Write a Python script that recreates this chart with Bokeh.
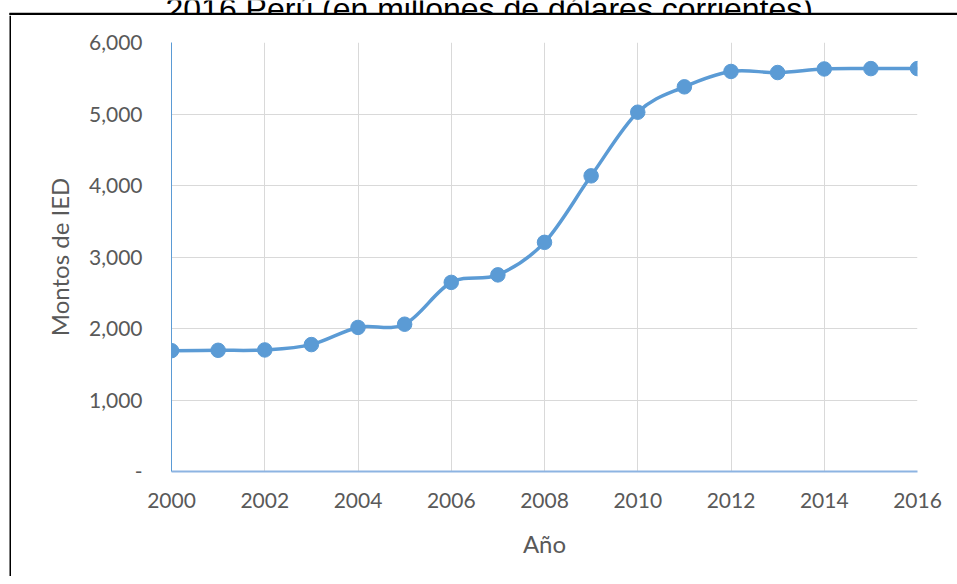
from bokeh.plotting import figure
from bokeh.models import FixedTicker, Range1d
from bokeh.layouts import column, row
from bokeh.embed import file_html
from bokeh.resources import INLINE
from bokeh.core.properties import value

# ---- data ----
title_text = "2016 Perú (en millones de dólares corrientes)"
years = list(range(2000, 2017))
ied = [1690, 1695, 1700, 1775, 2015, 2060, 2645, 2750, 3205, 4135,
       5025, 5380, 5595, 5580, 5630, 5635, 5635]
x_ticks = [2000, 2002, 2004, 2006, 2008, 2010, 2012, 2014, 2016]
y_ticks = [0, 1000, 2000, 3000, 4000, 5000, 6000]
y_tick_labels = ["-", "1,000", "2,000", "3,000", "4,000", "5,000", "6,000"]
x_label = "Año"
y_label = "Montos de IED"

BLUE = "#5b9bd5"
GRAY_TXT = "#595959"
GRID = "#d9d9d9"

# ---- title strip (title is cut at the top, black frame line below it) ----
TW, TH = 957, 15
tfig = figure(width=TW, height=TH, min_border=0,
              x_range=Range1d(0, TW), y_range=Range1d(0, TH),
              x_axis_location=None, y_axis_location=None,
              output_backend="svg", toolbar_location=None)
tfig.frame_align = False
tfig.grid.visible = False
tfig.outline_line_color = None
tfig.text(x=[165], y=[6.5], text=[title_text],
          text_font=value("Liberation Sans"), text_font_size="32px",
          text_color="black", text_baseline="alphabetic", text_align="left")
tfig.segment(x0=[9], y0=[1.5], x1=[TW], y1=[1.5], line_color="black", line_width=2.5)
tfig.segment(x0=[10], y0=[0], x1=[10], y1=[2.5], line_color="black", line_width=2)

# ---- left frame line strip ----
MH = 561
SW = 11
sfig = figure(width=SW, height=MH, min_border=0,
              x_range=Range1d(0, SW), y_range=Range1d(0, MH),
              x_axis_location=None, y_axis_location=None,
              output_backend="svg", toolbar_location=None)
sfig.frame_align = False
sfig.grid.visible = False
sfig.outline_line_color = None
sfig.segment(x0=[10], y0=[0], x1=[10], y1=[MH], line_color="black", line_width=2)

# ---- main chart ----
p = figure(frame_width=746, frame_height=429,
           min_border_left=160, min_border_right=40,
           min_border_top=27, min_border_bottom=105,
           x_range=Range1d(2000, 2016), y_range=Range1d(0, 6000),
           output_backend="svg", toolbar_location=None,
           background_fill_color="white", border_fill_color="white")
p.frame_align = False
p.outline_line_color = None

n = len(years)
x0s, y0s, x1s, y1s, cx0s, cy0s, cx1s, cy1s = [], [], [], [], [], [], [], []
for i in range(n - 1):
    a = i - 1 if i > 0 else i
    d = i + 2 if i + 2 < n else i + 1
    x0s.append(years[i]); y0s.append(ied[i])
    x1s.append(years[i + 1]); y1s.append(ied[i + 1])
    cx0s.append(years[i] + (years[i + 1] - years[a]) / 6)
    cy0s.append(ied[i] + (ied[i + 1] - ied[a]) / 6)
    cx1s.append(years[i + 1] - (years[d] - years[i]) / 6)
    cy1s.append(ied[i + 1] - (ied[d] - ied[i]) / 6)
p.bezier(x0=x0s, y0=y0s, x1=x1s, y1=y1s, cx0=cx0s, cy0=cy0s, cx1=cx1s, cy1=cy1s,
         line_color=BLUE, line_width=3.5)
p.scatter(years, ied, size=14.5, fill_color=BLUE, line_color=BLUE)

p.xaxis.ticker = FixedTicker(ticks=x_ticks)
p.yaxis.ticker = FixedTicker(ticks=y_ticks)
p.yaxis.major_label_overrides = {t: l for t, l in zip(y_ticks, y_tick_labels)}
p.xaxis.axis_label = x_label
p.yaxis.axis_label = y_label
for ax in (p.xaxis, p.yaxis):
    ax.major_tick_line_color = None
    ax.minor_tick_line_color = None
    ax.major_tick_out = 0
    ax.major_tick_in = 0
    ax.major_label_text_font = "Lato"
    ax.major_label_text_font_size = "21px"
    ax.major_label_text_color = GRAY_TXT
    ax.axis_label_text_font = "Lato"
    ax.axis_label_text_font_size = "24px"
    ax.axis_label_text_font_style = "normal"
    ax.axis_label_text_color = GRAY_TXT
p.yaxis.axis_line_color = BLUE
p.yaxis.axis_line_width = 1
p.xaxis.axis_line_color = "#8db4e2"
p.xaxis.axis_line_width = 2
p.yaxis.major_label_standoff = 29
p.yaxis.axis_label_standoff = 12
p.xaxis.major_label_standoff = 21
p.xaxis.axis_label_standoff = 18

p.xgrid.grid_line_color = GRID
p.ygrid.grid_line_color = GRID

layout = column(tfig, row(sfig, p))
open("out.html", "w").write(file_html(layout, INLINE))
